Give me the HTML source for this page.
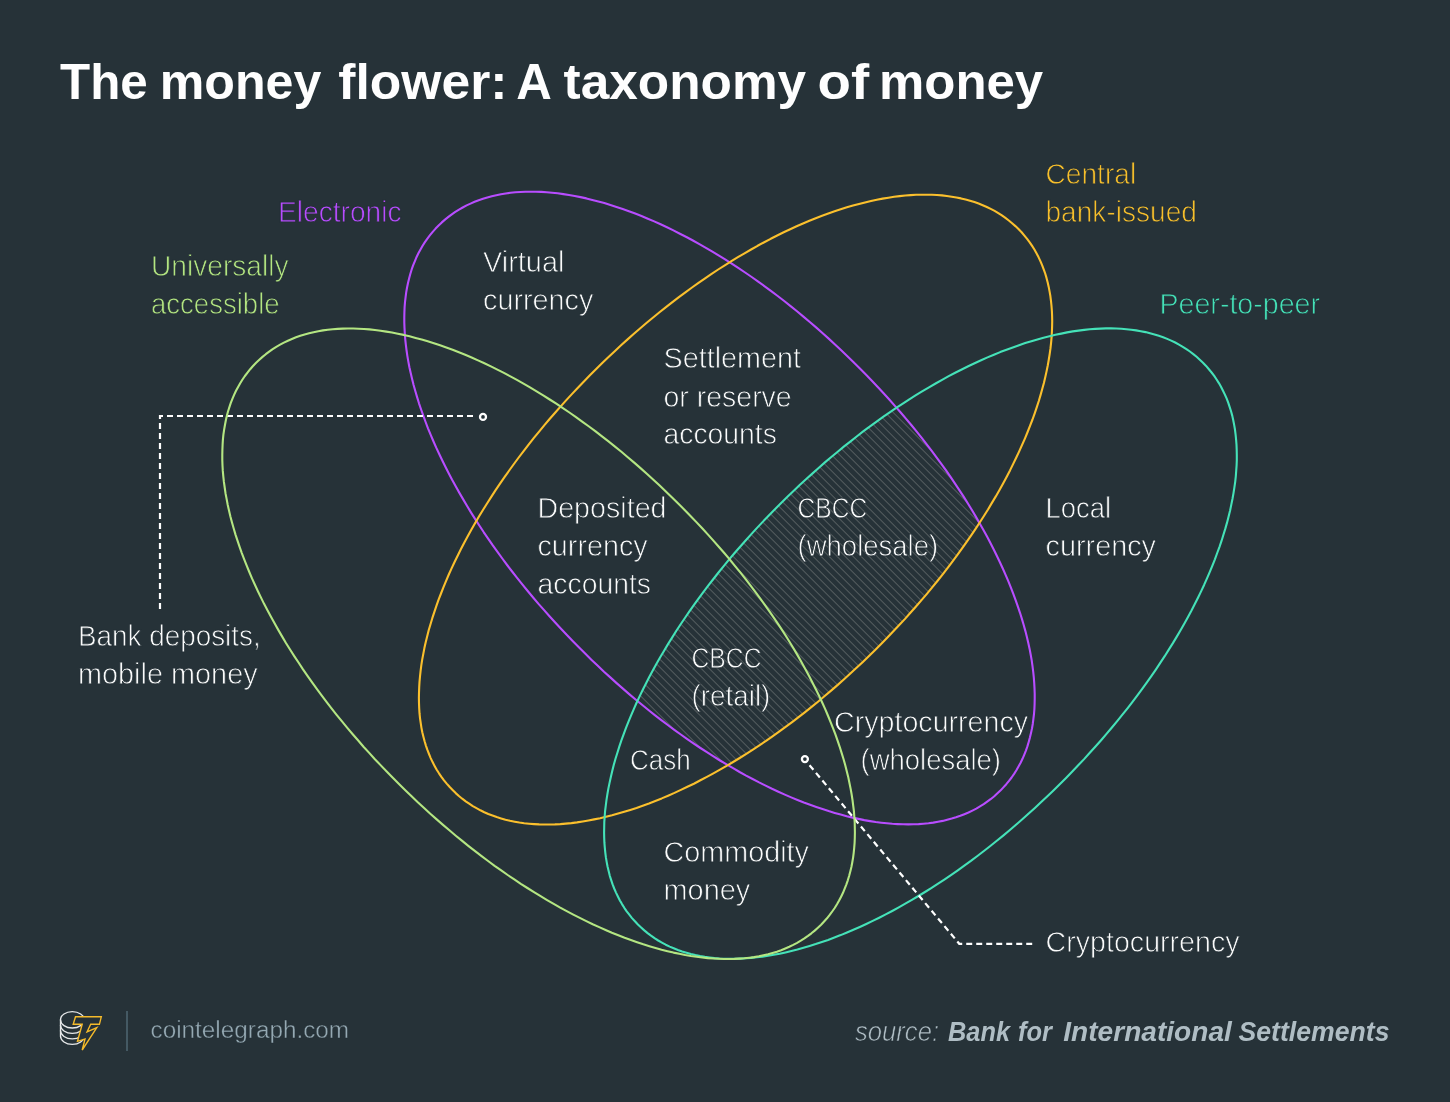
<!DOCTYPE html>
<html>
<head>
<meta charset="utf-8">
<title>The money flower: A taxonomy of money</title>
<style>
  html, body { margin: 0; padding: 0; background: #263238; }
  body { width: 1450px; height: 1102px; overflow: hidden; font-family: "Liberation Sans", sans-serif; }
  svg { display: block; will-change: transform; }
  text { font-family: "Liberation Sans", sans-serif; }
  .lbl { font-size: 29.7px; fill: #fbfcfc; stroke: #263238; stroke-width: 0.8px; paint-order: fill stroke; }
  .ttl { font-size: 49.2px; font-weight: bold; fill: #ffffff; }
</style>
</head>
<body>
<svg width="1450" height="1102" viewBox="0 0 1450 1102">
  <defs>
    <pattern id="hatch" width="5.657" height="12" patternUnits="userSpaceOnUse" patternTransform="rotate(-45)">
      <rect x="0" y="0" width="1" height="12" fill="#dcd8d0" fill-opacity="0.27"/>
    </pattern>
    <path id="eP" d="M1000.4,790.6 997.2,793.6 994.0,796.5 990.6,799.2 987.2,801.7 983.7,804.2 980.0,806.4 976.3,808.6 972.4,810.6 968.5,812.5 964.4,814.2 960.3,815.8 956.0,817.3 951.7,818.6 947.2,819.8 942.7,820.9 938.0,821.8 933.3,822.6 928.5,823.2 923.5,823.7 918.6,824.1 913.5,824.3 908.3,824.4 903.1,824.3 897.7,824.1 892.3,823.8 886.9,823.3 881.3,822.7 875.7,822.0 870.0,821.1 864.3,820.1 858.5,818.9 852.6,817.6 846.7,816.2 840.7,814.6 834.7,812.9 828.6,811.1 822.5,809.1 816.3,807.0 810.1,804.8 803.8,802.5 797.5,800.0 791.2,797.4 784.8,794.6 778.4,791.7 772.0,788.8 765.6,785.6 759.1,782.4 752.6,779.0 746.1,775.6 739.6,772.0 733.1,768.2 726.6,764.4 720.0,760.5 713.5,756.4 706.9,752.2 700.4,748.0 693.8,743.6 687.3,739.1 680.8,734.5 674.3,729.8 667.8,725.0 661.3,720.1 654.8,715.1 648.4,710.0 642.0,704.8 635.6,699.5 629.2,694.1 622.9,688.6 616.6,683.1 610.3,677.4 604.0,671.7 597.8,665.8 591.6,659.9 585.4,653.8 579.1,647.6 572.9,641.3 566.9,635.0 561.0,628.8 555.2,622.5 549.5,616.2 543.9,609.9 538.3,603.6 532.9,597.2 527.5,590.8 522.3,584.4 517.1,577.9 512.1,571.5 507.1,565.0 502.3,558.5 497.5,551.9 492.8,545.4 488.3,538.8 483.8,532.3 479.5,525.7 475.2,519.1 471.1,512.6 467.1,506.0 463.2,499.4 459.4,492.9 455.7,486.3 452.1,479.8 448.7,473.3 445.4,466.8 442.2,460.3 439.1,453.8 436.1,447.4 433.3,441.0 430.6,434.6 428.0,428.3 425.6,422.0 423.3,415.7 421.1,409.5 419.0,403.3 417.1,397.1 415.3,391.0 413.6,385.0 412.1,379.0 410.7,373.1 409.4,367.2 408.3,361.4 407.3,355.6 406.5,350.0 405.8,344.3 405.2,338.8 404.8,333.3 404.5,327.9 404.3,322.6 404.3,317.3 404.4,312.2 404.6,307.1 405.0,302.1 405.6,297.2 406.2,292.4 407.0,287.7 408.0,283.0 409.1,278.5 410.3,274.0 411.6,269.7 413.1,265.4 414.8,261.3 416.5,257.2 418.4,253.3 420.5,249.5 422.6,245.7 424.9,242.1 427.4,238.6 430.0,235.2 432.7,231.9 435.6,228.6 438.6,225.5 441.8,222.4 445.0,219.6 448.4,216.9 451.8,214.3 455.3,211.9 459.0,209.6 462.7,207.5 466.6,205.4 470.5,203.6 474.6,201.8 478.7,200.2 483.0,198.8 487.3,197.4 491.8,196.2 496.3,195.2 501.0,194.3 505.7,193.5 510.5,192.8 515.4,192.3 520.4,192.0 525.5,191.8 530.7,191.7 535.9,191.7 541.3,191.9 546.7,192.3 552.1,192.7 557.7,193.3 563.3,194.1 569.0,195.0 574.7,196.0 580.5,197.1 586.4,198.4 592.3,199.9 598.3,201.4 604.3,203.1 610.4,205.0 616.5,206.9 622.7,209.0 628.9,211.2 635.2,213.6 641.5,216.1 647.8,218.7 654.2,221.4 660.6,224.3 667.0,227.3 673.4,230.4 679.9,233.7 686.4,237.0 692.9,240.5 699.4,244.1 705.9,247.8 712.4,251.7 719.0,255.6 725.5,259.7 732.1,263.8 738.6,268.1 745.1,272.5 751.7,277.0 758.2,281.6 764.7,286.3 771.2,291.1 777.7,296.0 784.2,301.0 790.6,306.1 797.0,311.3 803.4,316.6 809.8,322.0 816.1,327.4 822.4,333.0 828.7,338.6 835.0,344.4 841.2,350.2 847.4,356.2 853.6,362.2 859.9,368.5 866.1,374.8 872.1,381.0 878.0,387.3 883.8,393.5 889.5,399.8 895.1,406.1 900.7,412.5 906.1,418.9 911.5,425.3 916.7,431.7 921.9,438.1 926.9,444.6 931.9,451.1 936.7,457.6 941.5,464.1 946.2,470.7 950.7,477.2 955.2,483.8 959.5,490.3 963.8,496.9 967.9,503.5 971.9,510.0 975.8,516.6 979.6,523.2 983.3,529.7 986.9,536.3 990.3,542.8 993.6,549.3 996.8,555.8 999.9,562.2 1002.9,568.7 1005.7,575.1 1008.4,581.4 1011.0,587.8 1013.4,594.1 1015.7,600.4 1017.9,606.6 1020.0,612.8 1021.9,618.9 1023.7,625.0 1025.4,631.1 1026.9,637.0 1028.3,643.0 1029.6,648.9 1030.7,654.7 1031.7,660.4 1032.5,666.1 1033.2,671.7 1033.8,677.3 1034.2,682.7 1034.5,688.1 1034.7,693.5 1034.7,698.7 1034.6,703.9 1034.4,709.0 1034.0,714.0 1033.4,718.9 1032.8,723.7 1032.0,728.4 1031.0,733.0 1029.9,737.6 1028.7,742.0 1027.4,746.4 1025.9,750.6 1024.2,754.8 1022.5,758.8 1020.6,762.8 1018.5,766.6 1016.4,770.3 1014.1,773.9 1011.6,777.5 1009.0,780.9 1006.3,784.2 1003.4,787.4Z"/>
    <path id="eO" d="M1018.5,229.1 1021.6,232.3 1024.4,235.6 1027.1,238.9 1029.7,242.3 1032.1,245.9 1034.4,249.5 1036.5,253.3 1038.5,257.1 1040.4,261.1 1042.1,265.1 1043.7,269.3 1045.2,273.5 1046.5,277.9 1047.7,282.4 1048.7,286.9 1049.6,291.6 1050.4,296.3 1051.0,301.1 1051.5,306.0 1051.9,311.0 1052.1,316.1 1052.2,321.3 1052.1,326.5 1051.9,331.8 1051.6,337.2 1051.1,342.7 1050.5,348.2 1049.7,353.9 1048.8,359.5 1047.8,365.3 1046.6,371.1 1045.3,376.9 1043.9,382.9 1042.3,388.8 1040.6,394.9 1038.8,401.0 1036.8,407.1 1034.7,413.3 1032.5,419.5 1030.1,425.7 1027.6,432.0 1025.0,438.3 1022.2,444.7 1019.3,451.1 1016.3,457.5 1013.2,463.9 1010.0,470.4 1006.6,476.9 1003.1,483.4 999.5,489.9 995.8,496.4 991.9,502.9 988.0,509.5 983.9,516.0 979.7,522.5 975.4,529.1 971.0,535.6 966.5,542.1 961.9,548.6 957.2,555.1 952.4,561.6 947.5,568.1 942.5,574.6 937.4,581.0 932.2,587.4 926.9,593.8 921.5,600.1 916.0,606.5 910.4,612.8 904.8,619.1 899.0,625.3 893.1,631.5 887.2,637.7 881.1,643.9 874.9,650.2 868.5,656.4 862.3,662.4 856.0,668.3 849.8,674.1 843.5,679.8 837.2,685.4 830.8,690.9 824.4,696.3 818.0,701.7 811.6,706.9 805.1,712.1 798.6,717.1 792.1,722.1 785.6,726.9 779.1,731.7 772.5,736.3 766.0,740.9 759.4,745.3 752.9,749.6 746.3,753.9 739.7,758.0 733.1,762.0 726.6,765.9 720.0,769.7 713.4,773.4 706.9,776.9 700.4,780.3 693.9,783.7 687.4,786.8 680.9,789.9 674.5,792.9 668.1,795.7 661.7,798.4 655.3,800.9 649.0,803.4 642.7,805.7 636.5,807.9 630.3,809.9 624.2,811.8 618.1,813.6 612.0,815.3 606.0,816.8 600.1,818.2 594.2,819.4 588.4,820.5 582.7,821.5 577.0,822.4 571.4,823.1 565.8,823.6 560.3,824.1 554.9,824.4 549.6,824.5 544.4,824.5 539.2,824.4 534.1,824.1 529.1,823.7 524.2,823.2 519.4,822.5 514.7,821.7 510.0,820.8 505.5,819.7 501.1,818.4 496.7,817.1 492.5,815.6 488.3,814.0 484.3,812.2 480.4,810.3 476.5,808.2 472.8,806.1 469.2,803.7 465.7,801.3 462.2,798.7 458.9,796.0 455.7,793.1 452.6,790.0 449.5,786.8 446.7,783.6 444.0,780.3 441.4,776.8 439.0,773.3 436.7,769.7 434.6,765.9 432.6,762.1 430.7,758.1 429.0,754.0 427.4,749.9 425.9,745.6 424.6,741.3 423.4,736.8 422.3,732.3 421.4,727.6 420.7,722.9 420.0,718.1 419.5,713.2 419.2,708.2 419.0,703.1 418.9,697.9 419.0,692.7 419.2,687.3 419.5,681.9 420.0,676.5 420.6,670.9 421.3,665.3 422.2,659.6 423.3,653.9 424.4,648.1 425.7,642.2 427.2,636.3 428.7,630.3 430.5,624.3 432.3,618.2 434.3,612.1 436.4,605.9 438.6,599.7 441.0,593.5 443.5,587.2 446.1,580.8 448.8,574.5 451.7,568.1 454.7,561.7 457.9,555.2 461.1,548.8 464.5,542.3 468.0,535.8 471.6,529.3 475.3,522.8 479.1,516.3 483.1,509.7 487.2,503.2 491.4,496.6 495.6,490.1 500.0,483.6 504.5,477.1 509.2,470.5 513.9,464.0 518.7,457.5 523.6,451.1 528.6,444.6 533.7,438.2 538.9,431.8 544.2,425.4 549.6,419.0 555.1,412.7 560.7,406.4 566.3,400.1 572.1,393.9 577.9,387.7 583.9,381.5 589.9,375.3 596.2,369.0 602.5,362.8 608.8,356.8 615.0,350.9 621.3,345.1 627.6,339.4 633.9,333.8 640.3,328.3 646.7,322.8 653.1,317.5 659.5,312.3 666.0,307.1 672.4,302.1 678.9,297.1 685.4,292.3 692.0,287.5 698.5,282.9 705.1,278.3 711.6,273.9 718.2,269.5 724.8,265.3 731.4,261.2 737.9,257.2 744.5,253.3 751.1,249.5 757.6,245.8 764.2,242.3 770.7,238.8 777.2,235.5 783.7,232.3 790.2,229.3 796.6,226.3 803.0,223.5 809.4,220.8 815.7,218.2 822.1,215.8 828.3,213.5 834.6,211.3 840.7,209.3 846.9,207.3 853.0,205.5 859.0,203.9 865.0,202.4 871.0,201.0 876.8,199.7 882.6,198.6 888.4,197.7 894.1,196.8 899.7,196.1 905.3,195.5 910.7,195.1 916.1,194.8 921.5,194.7 926.7,194.7 931.9,194.8 936.9,195.0 941.9,195.4 946.8,196.0 951.7,196.7 956.4,197.5 961.0,198.4 965.6,199.5 970.0,200.7 974.4,202.1 978.6,203.6 982.7,205.2 986.8,207.0 990.7,208.9 994.6,210.9 998.3,213.1 1001.9,215.4 1005.4,217.9 1008.8,220.5 1012.1,223.2 1015.4,226.1Z"/>
    <path id="eG" d="M821.1,924.7 817.9,927.7 814.7,930.6 811.4,933.3 808.0,935.9 804.4,938.4 800.8,940.7 797.1,942.8 793.2,944.9 789.3,946.8 785.3,948.5 781.1,950.2 776.9,951.7 772.5,953.0 768.1,954.2 763.5,955.3 758.9,956.3 754.2,957.1 749.4,957.7 744.4,958.3 739.4,958.6 734.4,958.9 729.2,959.0 724.0,959.0 718.6,958.8 713.2,958.5 707.8,958.1 702.2,957.5 696.6,956.8 690.9,956.0 685.2,955.0 679.3,953.8 673.5,952.6 667.5,951.2 661.6,949.7 655.5,948.0 649.4,946.2 643.3,944.3 637.1,942.2 630.9,940.0 624.6,937.7 618.3,935.2 611.9,932.7 605.6,930.0 599.2,927.1 592.7,924.2 586.3,921.1 579.8,917.9 573.3,914.6 566.7,911.1 560.2,907.6 553.7,903.9 547.1,900.1 540.6,896.2 534.0,892.2 527.4,888.0 520.8,883.8 514.3,879.4 507.7,875.0 501.2,870.4 494.6,865.8 488.1,861.0 481.6,856.1 475.1,851.2 468.6,846.1 462.2,840.9 455.8,835.7 449.4,830.3 443.0,824.9 436.7,819.4 430.3,813.8 424.1,808.1 417.8,802.3 411.6,796.3 405.3,790.3 399.0,784.1 392.8,777.8 386.7,771.6 380.8,765.4 374.9,759.2 369.2,752.9 363.5,746.7 358.0,740.3 352.5,734.0 347.1,727.6 341.8,721.2 336.6,714.8 331.5,708.4 326.5,701.9 321.6,695.4 316.8,688.9 312.1,682.4 307.5,675.9 303.0,669.4 298.7,662.8 294.4,656.3 290.2,649.7 286.1,643.2 282.2,636.6 278.4,630.1 274.7,623.6 271.1,617.1 267.6,610.6 264.2,604.1 261.0,597.6 257.9,591.2 254.9,584.8 252.0,578.4 249.3,572.0 246.7,565.7 244.2,559.4 241.8,553.1 239.6,546.9 237.5,540.7 235.5,534.6 233.7,528.5 232.0,522.5 230.4,516.5 229.0,510.6 227.7,504.7 226.6,498.9 225.5,493.2 224.7,487.5 223.9,481.9 223.3,476.3 222.8,470.9 222.5,465.5 222.3,460.1 222.3,454.9 222.4,449.7 222.6,444.6 222.9,439.6 223.4,434.7 224.1,429.9 224.9,425.2 225.8,420.5 226.8,416.0 228.0,411.5 229.4,407.2 230.8,402.9 232.4,398.8 234.2,394.7 236.0,390.8 238.1,386.9 240.2,383.2 242.5,379.5 244.9,376.0 247.5,372.6 250.2,369.2 253.0,366.0 256.1,362.8 259.3,359.8 262.5,356.9 265.8,354.2 269.2,351.6 272.7,349.1 276.3,346.8 280.1,344.7 283.9,342.6 287.9,340.7 291.9,339.0 296.0,337.3 300.3,335.8 304.6,334.5 309.1,333.3 313.6,332.2 318.3,331.3 323.0,330.4 327.8,329.8 332.7,329.3 337.7,328.9 342.8,328.6 348.0,328.5 353.2,328.5 358.5,328.7 363.9,329.0 369.4,329.4 374.9,330.0 380.6,330.7 386.3,331.6 392.0,332.5 397.8,333.7 403.7,334.9 409.6,336.3 415.6,337.9 421.7,339.5 427.7,341.3 433.9,343.2 440.1,345.3 446.3,347.5 452.6,349.8 458.9,352.3 465.2,354.8 471.6,357.5 478.0,360.4 484.4,363.3 490.9,366.4 497.4,369.6 503.9,372.9 510.4,376.4 516.9,379.9 523.5,383.6 530.0,387.4 536.6,391.3 543.2,395.3 549.7,399.5 556.3,403.7 562.9,408.1 569.4,412.5 576.0,417.1 582.5,421.8 589.0,426.5 595.6,431.4 602.0,436.4 608.5,441.4 615.0,446.6 621.4,451.8 627.8,457.2 634.2,462.6 640.5,468.1 646.8,473.7 653.1,479.5 659.4,485.3 665.6,491.2 671.8,497.2 678.2,503.4 684.4,509.7 690.5,515.9 696.4,522.1 702.2,528.3 708.0,534.6 713.6,540.9 719.2,547.2 724.7,553.5 730.1,559.9 735.3,566.3 740.5,572.7 745.6,579.1 750.6,585.6 755.5,592.1 760.3,598.6 765.0,605.1 769.6,611.6 774.1,618.1 778.5,624.7 782.8,631.2 787.0,637.8 791.0,644.3 795.0,650.9 798.8,657.4 802.5,663.9 806.1,670.4 809.6,676.9 812.9,683.4 816.2,689.9 819.3,696.3 822.3,702.7 825.2,709.1 827.9,715.5 830.5,721.8 833.0,728.1 835.4,734.4 837.6,740.6 839.7,746.8 841.6,752.9 843.5,759.0 845.2,765.0 846.7,771.0 848.2,776.9 849.4,782.8 850.6,788.6 851.6,794.3 852.5,800.0 853.2,805.6 853.9,811.2 854.3,816.7 854.7,822.1 854.8,827.4 854.9,832.6 854.8,837.8 854.6,842.9 854.2,847.9 853.7,852.8 853.1,857.6 852.3,862.3 851.4,867.0 850.3,871.5 849.1,876.0 847.8,880.3 846.3,884.6 844.7,888.7 843.0,892.8 841.1,896.7 839.1,900.6 837.0,904.3 834.7,908.0 832.2,911.5 829.7,914.9 827.0,918.3 824.1,921.5Z"/>
    <path id="eT" d="M1203.0,362.7 1206.1,365.9 1208.9,369.2 1211.6,372.5 1214.2,375.9 1216.6,379.5 1218.9,383.1 1221.0,386.8 1223.0,390.7 1224.9,394.6 1226.7,398.7 1228.3,402.9 1229.7,407.1 1231.1,411.5 1232.3,415.9 1233.3,420.5 1234.2,425.1 1235.0,429.8 1235.6,434.7 1236.1,439.6 1236.5,444.6 1236.7,449.6 1236.8,454.8 1236.8,460.1 1236.6,465.4 1236.2,470.8 1235.8,476.3 1235.2,481.8 1234.4,487.4 1233.5,493.1 1232.5,498.8 1231.3,504.6 1230.1,510.5 1228.6,516.4 1227.1,522.4 1225.4,528.4 1223.5,534.5 1221.6,540.7 1219.5,546.8 1217.2,553.0 1214.9,559.3 1212.4,565.6 1209.8,571.9 1207.0,578.3 1204.2,584.7 1201.2,591.1 1198.1,597.5 1194.8,604.0 1191.5,610.5 1188.0,617.0 1184.4,623.5 1180.7,630.0 1176.8,636.6 1172.9,643.1 1168.8,649.6 1164.7,656.2 1160.4,662.7 1156.0,669.3 1151.5,675.8 1146.9,682.3 1142.2,688.8 1137.4,695.3 1132.5,701.8 1127.5,708.3 1122.4,714.7 1117.2,721.1 1111.9,727.5 1106.5,733.9 1101.1,740.2 1095.5,746.5 1089.8,752.8 1084.1,759.1 1078.2,765.3 1072.3,771.5 1066.3,777.7 1060.0,784.0 1053.7,790.2 1047.4,796.2 1041.2,802.1 1034.9,807.9 1028.7,813.6 1022.3,819.3 1016.0,824.8 1009.6,830.2 1003.2,835.6 996.8,840.8 990.3,846.0 983.9,851.0 977.4,856.0 970.9,860.9 964.3,865.6 957.8,870.3 951.3,874.8 944.7,879.3 938.1,883.6 931.6,887.9 925.0,892.0 918.4,896.0 911.9,899.9 905.3,903.7 898.8,907.4 892.2,911.0 885.7,914.4 879.2,917.7 872.7,920.9 866.3,924.0 859.8,927.0 853.4,929.8 847.0,932.5 840.7,935.1 834.4,937.5 828.1,939.9 821.9,942.0 815.7,944.1 809.6,946.0 803.5,947.8 797.4,949.5 791.4,951.0 785.5,952.4 779.6,953.7 773.8,954.8 768.1,955.8 762.4,956.6 756.8,957.3 751.2,957.9 745.7,958.3 740.3,958.6 735.0,958.8 729.8,958.8 724.6,958.7 719.5,958.5 714.5,958.1 709.6,957.5 704.8,956.9 700.1,956.1 695.4,955.1 690.9,954.0 686.5,952.8 682.1,951.5 677.9,950.0 673.7,948.3 669.7,946.6 665.7,944.7 661.9,942.6 658.2,940.5 654.5,938.2 651.0,935.7 647.6,933.1 644.3,930.4 641.1,927.5 637.9,924.5 634.9,921.3 632.0,918.1 629.3,914.7 626.7,911.3 624.3,907.8 622.0,904.1 619.9,900.4 617.9,896.5 616.0,892.6 614.2,888.5 612.6,884.4 611.2,880.1 609.8,875.8 608.7,871.3 607.6,866.8 606.7,862.1 605.9,857.4 605.3,852.6 604.8,847.7 604.4,842.7 604.2,837.6 604.1,832.4 604.2,827.2 604.3,821.8 604.7,816.4 605.1,811.0 605.8,805.4 606.5,799.8 607.4,794.1 608.4,788.4 609.6,782.6 610.9,776.7 612.3,770.8 613.8,764.8 615.5,758.8 617.4,752.7 619.3,746.6 621.4,740.4 623.7,734.2 626.0,727.9 628.5,721.6 631.1,715.3 633.9,708.9 636.7,702.5 639.7,696.1 642.8,689.7 646.1,683.2 649.4,676.7 652.9,670.2 656.5,663.7 660.2,657.2 664.1,650.7 668.0,644.1 672.1,637.6 676.2,631.0 680.5,624.5 684.9,618.0 689.4,611.4 694.0,604.9 698.7,598.4 703.5,591.9 708.4,585.4 713.4,579.0 718.5,572.5 723.7,566.1 729.0,559.7 734.4,553.3 739.9,547.0 745.4,540.7 751.1,534.4 756.8,528.1 762.7,521.9 768.6,515.7 774.7,509.5 780.9,503.2 787.2,497.0 793.5,491.0 799.7,485.1 806.0,479.3 812.3,473.6 818.6,468.0 824.9,462.4 831.3,457.0 837.7,451.7 844.1,446.4 850.6,441.3 857.0,436.2 863.5,431.2 870.0,426.4 876.6,421.6 883.1,416.9 889.7,412.4 896.2,407.9 902.8,403.6 909.3,399.3 915.9,395.2 922.5,391.2 929.0,387.3 935.6,383.5 942.1,379.8 948.7,376.2 955.2,372.8 961.7,369.5 968.2,366.3 974.6,363.2 981.1,360.2 987.5,357.4 993.9,354.7 1000.2,352.1 1006.5,349.7 1012.8,347.4 1019.0,345.2 1025.2,343.1 1031.4,341.2 1037.4,339.4 1043.5,337.7 1049.5,336.2 1055.4,334.8 1061.3,333.6 1067.1,332.4 1072.8,331.4 1078.5,330.6 1084.2,329.9 1089.7,329.3 1095.2,328.9 1100.6,328.6 1105.9,328.4 1111.1,328.4 1116.3,328.5 1121.4,328.8 1126.4,329.2 1131.3,329.7 1136.1,330.4 1140.8,331.2 1145.5,332.1 1150.0,333.2 1154.5,334.4 1158.8,335.8 1163.1,337.2 1167.2,338.9 1171.2,340.6 1175.2,342.5 1179.0,344.6 1182.8,346.8 1186.4,349.1 1189.9,351.5 1193.3,354.1 1196.6,356.8 1199.8,359.7Z"/>
    <clipPath id="cPurple"><use href="#eP"/></clipPath>
    <clipPath id="cOrange"><use href="#eO"/></clipPath>
    <clipPath id="cTeal"><use href="#eT"/></clipPath>
  </defs>


  <!-- hatched region: purple ∩ orange ∩ teal -->
  <g clip-path="url(#cPurple)">
    <g clip-path="url(#cOrange)">
      <g clip-path="url(#cTeal)">
        <rect x="600" y="380" width="420" height="420" fill="url(#hatch)"/>
      </g>
    </g>
  </g>

  <!-- ellipses (superellipse paths, fitted) -->
  <g fill="none" stroke-width="2.1" stroke-linejoin="round">
    <use href="#eP" stroke="#b84dff"/>
    <use href="#eO" stroke="#fbc02d"/>
    <use href="#eT" stroke="#45e2b8"/>
  </g>

  <!-- dashed callouts -->
  <g fill="none" stroke="#ffffff" stroke-width="2.2" stroke-dasharray="6 4" stroke-linejoin="miter">
    <path d="M160,609 V416 H473.3"/>
    <path d="M809.55,765.2 L959.3,943.8 H1032.2"/>
  </g>
  <use href="#eG" fill="none" stroke="#b4e682" stroke-width="2.1" stroke-linejoin="round"/>

  <circle cx="483" cy="416.9" r="3" fill="#263238" stroke="#ffffff" stroke-width="2.3"/>
  <circle cx="804.9" cy="759.1" r="3" fill="#263238" stroke="#ffffff" stroke-width="2.3"/>

  <!-- title -->
  <g class="ttl" opacity="0.995">
    <text x="60.1" y="99" textLength="87.7" lengthAdjust="spacingAndGlyphs">The</text>
    <text x="159.7" y="99" textLength="161.6" lengthAdjust="spacingAndGlyphs">money</text>
    <text x="338.3" y="99" textLength="169.2" lengthAdjust="spacingAndGlyphs">flower:</text>
    <text x="516.2" y="99" textLength="35.6" lengthAdjust="spacingAndGlyphs">A</text>
    <text x="563.6" y="99" textLength="242.5" lengthAdjust="spacingAndGlyphs">taxonomy</text>
    <text x="817.5" y="99" textLength="51.6" lengthAdjust="spacingAndGlyphs">of</text>
    <text x="879.0" y="99" textLength="164.2" lengthAdjust="spacingAndGlyphs">money</text>
  </g>

  <!-- category labels -->
  <g class="lbl" opacity="0.995">
    <text x="278" y="222.2" textLength="123.5" lengthAdjust="spacingAndGlyphs" style="fill:#b84dff">Electronic</text>
    <text x="151" y="275.7" textLength="137.6" lengthAdjust="spacingAndGlyphs" style="fill:#b4e682">Universally</text>
    <text x="151" y="313.6" textLength="128.6" lengthAdjust="spacingAndGlyphs" style="fill:#b4e682">accessible</text>
    <text x="1045.5" y="183.9" textLength="90.7" lengthAdjust="spacingAndGlyphs" style="fill:#f8c02c">Central</text>
    <text x="1045.5" y="221.9" textLength="151.4" lengthAdjust="spacingAndGlyphs" style="fill:#f8c02c">bank-issued</text>
    <text x="1159.5" y="314.2" textLength="160.5" lengthAdjust="spacingAndGlyphs" style="fill:#45e2b8">Peer-to-peer</text>

    <text x="483" y="272.3" textLength="81.4" lengthAdjust="spacingAndGlyphs">Virtual</text>
    <text x="483" y="310.2" textLength="110.4" lengthAdjust="spacingAndGlyphs">currency</text>

    <text x="663.5" y="368.2" textLength="137.5" lengthAdjust="spacingAndGlyphs">Settlement</text>
    <text x="663.5" y="406.5" textLength="128.2" lengthAdjust="spacingAndGlyphs">or reserve</text>
    <text x="663.5" y="444.0" textLength="113.4" lengthAdjust="spacingAndGlyphs">accounts</text>

    <text x="537.5" y="518.1" textLength="129" lengthAdjust="spacingAndGlyphs">Deposited</text>
    <text x="537.5" y="556.3" textLength="110.1" lengthAdjust="spacingAndGlyphs">currency</text>
    <text x="537.5" y="594.1" textLength="113.5" lengthAdjust="spacingAndGlyphs">accounts</text>

    <text x="797.5" y="518.1" textLength="69.7" lengthAdjust="spacingAndGlyphs">CBCC</text>
    <text x="797.5" y="556.3" textLength="140.7" lengthAdjust="spacingAndGlyphs">(wholesale)</text>

    <text x="1045.5" y="518.1" textLength="65.6" lengthAdjust="spacingAndGlyphs">Local</text>
    <text x="1045.5" y="556.3" textLength="110.5" lengthAdjust="spacingAndGlyphs">currency</text>

    <text x="691.5" y="668.1" textLength="70" lengthAdjust="spacingAndGlyphs">CBCC</text>
    <text x="691.5" y="706.4" textLength="78.9" lengthAdjust="spacingAndGlyphs">(retail)</text>

    <text x="630" y="770.2" textLength="60.7" lengthAdjust="spacingAndGlyphs">Cash</text>

    <text x="834" y="732.0" textLength="194.1" lengthAdjust="spacingAndGlyphs">Cryptocurrency</text>
    <text x="860.5" y="770.1" textLength="140.5" lengthAdjust="spacingAndGlyphs">(wholesale)</text>

    <text x="663.5" y="862.0" textLength="145.4" lengthAdjust="spacingAndGlyphs">Commodity</text>
    <text x="663.5" y="900.0" textLength="86.7" lengthAdjust="spacingAndGlyphs">money</text>

    <text x="78" y="645.9" textLength="182.7" lengthAdjust="spacingAndGlyphs">Bank deposits,</text>
    <text x="78" y="683.9" textLength="179.6" lengthAdjust="spacingAndGlyphs">mobile money</text>

    <text x="1045.5" y="952.2" textLength="194.1" lengthAdjust="spacingAndGlyphs">Cryptocurrency</text>
  </g>

  <!-- footer -->
  <g opacity="0.995">
    <!-- logo -->
    <g fill="none" stroke="#e8eaeb" stroke-width="1.35">
      <ellipse cx="72.3" cy="1019.85" rx="11.8" ry="8.2"/>
      <path d="M60.5,1019.6 V1036.2"/>
      <path d="M60.5,1025 A11.8,8.4 0 0 0 84.1,1025"/>
      <path d="M60.5,1030.5 A11.8,8.4 0 0 0 84.1,1030.5"/>
      <path d="M60.5,1036 A11.8,8.4 0 0 0 84.1,1036"/>
    </g>
    <path d="M75.5,1016.8 L101.3,1016.8 L99.4,1024.3 L90.7,1024.3 L87.1,1031.8 L96.8,1027.6 L82.2,1050 L85,1039.1 L77.5,1041.3 L82.2,1024.3 L73.2,1024.3 Z"
          fill="#263238" stroke="#f5bb2c" stroke-width="1.4" stroke-linejoin="miter"/>
    <rect x="126" y="1011" width="2" height="40" fill="#455a64"/>
    <text x="150.5" y="1037.7" textLength="198.6" lengthAdjust="spacingAndGlyphs" style="font-size:23.5px; fill:#96aab4; stroke:#263238; stroke-width:0.4px; paint-order:fill stroke">cointelegraph.com</text>
    <g style="font-size:28.5px; font-style:italic; fill:#b0bec5">
      <text x="855" y="1041" textLength="84" lengthAdjust="spacingAndGlyphs" style="stroke:#263238; stroke-width:0.7px; paint-order:fill stroke">source:</text>
      <g style="font-weight:bold">
        <text x="948" y="1041" textLength="62" lengthAdjust="spacingAndGlyphs">Bank</text>
        <text x="1018" y="1041" textLength="34" lengthAdjust="spacingAndGlyphs">for</text>
        <text x="1063.3" y="1041" textLength="168.5" lengthAdjust="spacingAndGlyphs">International</text>
        <text x="1238.5" y="1041" textLength="151" lengthAdjust="spacingAndGlyphs">Settlements</text>
      </g>
    </g>
  </g>
</svg>
</body>
</html>
